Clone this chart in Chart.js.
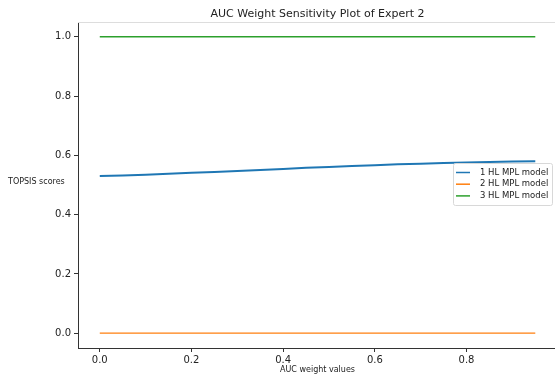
<!DOCTYPE html>
<html>
<head>
<meta charset="utf-8">
<script src="https://cdn.jsdelivr.net/npm/chart.js@4/dist/chart.umd.min.js"></script>
<style>
  html, body { margin: 0; padding: 0; background: #fff; }
  #wrap { width: 555px; height: 380px; }
</style>
</head>
<body>
<div id="wrap"><canvas id="chart" width="555" height="380"></canvas></div>
<script>
// --- datos ---
const aucWeights = [0.00, 0.05, 0.10, 0.15, 0.20, 0.25, 0.30, 0.35, 0.40, 0.45,
                    0.50, 0.55, 0.60, 0.65, 0.70, 0.75, 0.80, 0.85, 0.90, 0.95];
const model1HL = [0.530, 0.532, 0.535, 0.538, 0.541, 0.544, 0.547, 0.551, 0.554, 0.558,
                  0.561, 0.564, 0.567, 0.570, 0.572, 0.574, 0.576, 0.578, 0.579, 0.580];
const model2HL = [0, 0, 0, 0, 0, 0, 0, 0, 0, 0, 0, 0, 0, 0, 0, 0, 0, 0, 0, 0];
const model3HL = [1, 1, 1, 1, 1, 1, 1, 1, 1, 1, 1, 1, 1, 1, 1, 1, 1, 1, 1, 1];
const seriesNames = ['1 HL MPL model', '2 HL MPL model', '3 HL MPL model'];
const xTicks = [0, 0.2, 0.4, 0.6, 0.8];
const yTicks = [0, 0.2, 0.4, 0.6, 0.8, 1.0];

const FONT = "'DejaVu Sans', sans-serif";

function toPoints(ys) {
    return aucWeights.map((x, i) => ({ x: x, y: ys[i] }));
}

// Título, etiquetas de ejes, borde superior y leyenda estilo matplotlib
const decorPlugin = {
    id: 'decor',
    afterDraw(chart) {
        const ctx = chart.ctx;
        const a = chart.chartArea;
        ctx.save();

        // borde superior claro
        ctx.strokeStyle = '#dddddd';
        ctx.lineWidth = 1;
        ctx.beginPath();
        ctx.moveTo(a.left, a.top + 0.5);
        ctx.lineTo(a.right, a.top + 0.5);
        ctx.stroke();

        // título
        ctx.fillStyle = '#222';
        ctx.font = '11px ' + FONT;
        ctx.textAlign = 'center';
        ctx.textBaseline = 'middle';
        ctx.fillText('AUC Weight Sensitivity Plot of Expert 2', (a.left + 557) / 2, 14);

        // etiqueta eje x
        ctx.font = '8px ' + FONT;
        ctx.fillText('AUC weight values', (a.left + 557) / 2, 370);

        // etiqueta eje y (horizontal)
        ctx.textAlign = 'left';
        ctx.fillText('TOPSIS scores', 8, (a.top + a.bottom) / 2 - 3);

        // leyenda
        const w = 99, h = 42;
        const lx = a.right - 3 - w;
        const ly = (a.top + a.bottom) / 2 - h / 2 - 1;
        ctx.fillStyle = 'rgba(255,255,255,0.85)';
        ctx.strokeStyle = '#d8d8d8';
        ctx.lineWidth = 1;
        ctx.beginPath();
        ctx.roundRect(lx + 0.5, ly + 0.5, w, h, 2);
        ctx.fill();
        ctx.stroke();
        ctx.font = '8.5px ' + FONT;
        ctx.textBaseline = 'middle';
        chart.data.datasets.forEach((ds, i) => {
            const yy = ly + 9.5 + i * 11.7;
            ctx.strokeStyle = ds.borderColor;
            ctx.lineWidth = 1.5;
            ctx.beginPath();
            ctx.moveTo(lx + 3, yy);
            ctx.lineTo(lx + 17, yy);
            ctx.stroke();
            ctx.fillStyle = '#222';
            ctx.fillText(ds.label, lx + 27, yy);
        });
        ctx.restore();
    }
};

const ctx = document.getElementById('chart').getContext('2d');
const myChart = new Chart(ctx, {
    type: 'line',
    data: {
        datasets: [
            { label: seriesNames[0], data: toPoints(model1HL), borderColor: '#1f77b4', borderWidth: 2, pointRadius: 0, tension: 0 },
            { label: seriesNames[1], data: toPoints(model2HL), borderColor: '#ff7f0e', borderWidth: 1.2, pointRadius: 0, tension: 0 },
            { label: seriesNames[2], data: toPoints(model3HL), borderColor: '#2ca02c', borderWidth: 1.5, pointRadius: 0, tension: 0 }
        ]
    },
    options: {
        responsive: false,
        animation: false,
        layout: { padding: { left: 16, top: 22, right: 0, bottom: 0 } },
        plugins: {
            legend: { display: false },
            title: { display: false },
            tooltip: { enabled: false }
        },
        scales: {
            x: {
                type: 'linear',
                min: -0.0475,
                max: 0.993,
                afterBuildTicks: (scale) => { scale.ticks = xTicks.map(v => ({ value: v })); },
                afterFit: (scale) => { scale.height = 32; },
                grid: { drawOnChartArea: false, drawTicks: true, tickLength: 4, tickColor: '#333' },
                border: { color: '#333', width: 1 },
                ticks: { color: '#222', font: { family: FONT, size: 10 }, padding: 2, maxRotation: 0,
                         callback: (v) => Number(v).toFixed(1) }
            },
            y: {
                type: 'linear',
                min: -0.05,
                max: 1.05,
                afterBuildTicks: (scale) => { scale.ticks = yTicks.map(v => ({ value: v })); },
                afterFit: (scale) => { scale.width = 62; },
                grid: { drawOnChartArea: false, drawTicks: true, tickLength: 4, tickColor: '#333' },
                border: { color: '#333', width: 1 },
                ticks: { color: '#222', font: { family: FONT, size: 10 }, padding: 3,
                         callback: (v) => Number(v).toFixed(1) }
            }
        }
    },
    plugins: [decorPlugin]
});
</script>
</body>
</html>
